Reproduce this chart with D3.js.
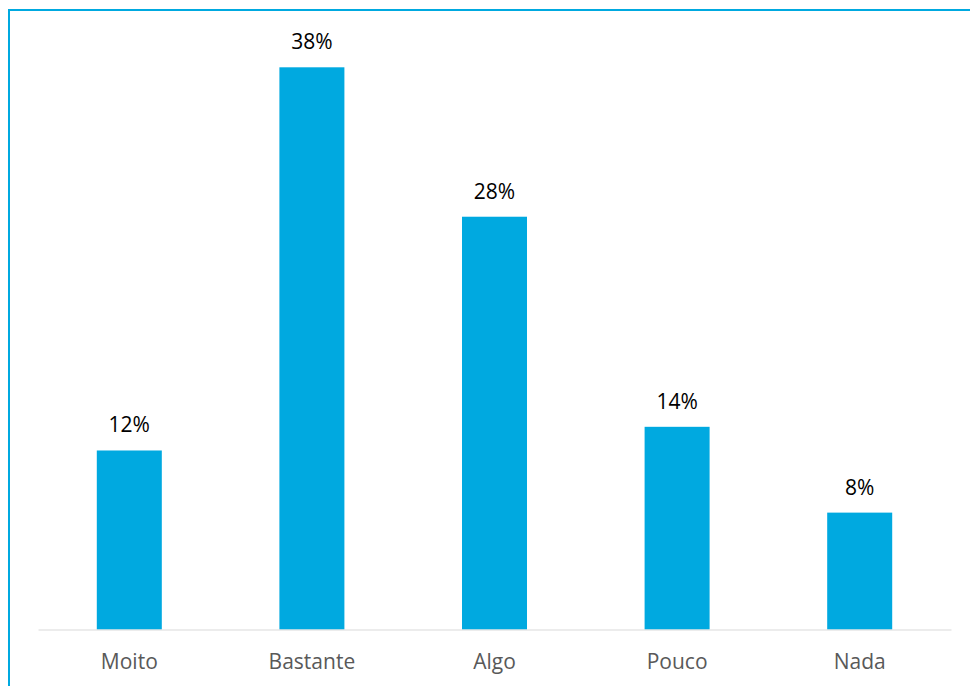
<!DOCTYPE html>
<html>
<head>
<meta charset="utf-8">
<script src="https://cdn.jsdelivr.net/npm/d3@7"></script>
<style>
  html, body { margin: 0; padding: 0; background: #fff; }
  svg { display: block; }
</style>
</head>
<body>
<svg id="chart" width="970" height="686"></svg>
<script>
const categories = ["Moito", "Bastante", "Algo", "Pouco", "Nada"];
const values = [12.1, 38.0, 27.9, 13.7, 7.9];

const svg = d3.select("#chart");
const W = 970, H = 686;
const barColor = "#00A9E0";

// frame (only top & left visible in reference)
svg.append("rect")
  .attr("x", 9).attr("y", 10)
  .attr("width", W + 20).attr("height", H + 20)
  .attr("fill", "none")
  .attr("stroke", barColor)
  .attr("stroke-width", 2);

const x = d3.scaleBand().domain(categories).range([38, 951]).paddingInner(0.644).paddingOuter(0.322);
const y = d3.scaleLinear().domain([0, 38]).range([629.5, 67.3]);

const data = categories.map((c, i) => ({ c, v: values[i] }));

svg.append("g").selectAll("rect").data(data).join("rect")
  .attr("x", d => x(d.c))
  .attr("y", d => y(d.v))
  .attr("width", x.bandwidth())
  .attr("height", d => y(0) - y(d.v))
  .attr("fill", barColor);

// axis
const xAxis = d3.axisBottom(x).tickSize(0).tickPadding(0);
const gx = svg.append("g").attr("transform", `translate(0,${y(0)})`).call(xAxis);
gx.select(".domain").attr("stroke", "#d9d9d9").attr("stroke-width", 1.2);
gx.selectAll(".tick text")
  .attr("y", 0).attr("dy", 0)
  .attr("transform", "translate(0,39.5)")
  .attr("font-family", "'Open Sans', sans-serif")
  .attr("font-size", 21)
  .attr("fill", "#595959");

const fmt = d3.format(".0f");
svg.append("g").selectAll("text").data(data).join("text")
  .attr("x", d => x(d.c) + x.bandwidth() / 2)
  .attr("y", d => y(d.v) - 18)
  .attr("text-anchor", "middle")
  .attr("font-family", "'Open Sans', sans-serif")
  .attr("font-size", 21)
  .attr("fill", "#000")
  .text(d => fmt(d.v) + "%");
</script>
</body>
</html>
